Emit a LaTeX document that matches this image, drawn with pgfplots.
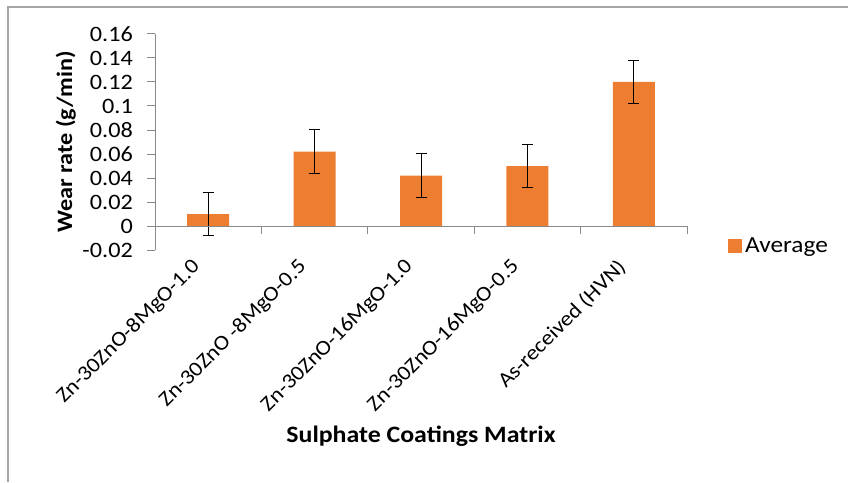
\documentclass[border=0pt]{standalone}
\usepackage{fontspec}
\setmainfont{Carlito}[FakeStretch=1.1]
\usepackage{pgfplots}
\pgfplotsset{compat=1.18}
\usepackage{pgfplotstable}

\definecolor{barorange}{HTML}{ED7D31}
\definecolor{axisgray}{HTML}{898989}
\definecolor{framegray}{HTML}{A6A6A6}

\pgfplotstableread{
x   y      err
0   0.010  0.018
1   0.062  0.018
2   0.042  0.018
3   0.050  0.018
4   0.120  0.018
}\wear

\begin{document}
\begin{tikzpicture}
\path[use as bounding box] (0pt,0pt) rectangle (848pt,482pt);
% chart frame (only left and top edges show)
\draw[framegray, line width=1.5pt] (8pt,0pt) -- (8pt,475pt) -- (848pt,475pt);

\begin{axis}[
    at={(155pt,232pt)}, anchor=south west,
    scale only axis,
    width=532pt, height=216pt,
    xmin=-0.5, xmax=4.5,
    ymin=-0.02, ymax=0.16,
    axis lines=left,
    axis line style={-, axisgray, line width=1pt},
    x axis line style={draw=none},
    xtick={0,1,2,3,4},
    xticklabels={Zn-30ZnO-8MgO-1.0, Zn-30ZnO -8MgO-0.5, Zn-30ZnO-16MgO-1.0, Zn-30ZnO-16MgO-0.5, As-received (HVN)},
    xtick style={draw=none},
    xticklabel style={rotate=45, anchor=east, font=\fontsize{21}{23}\selectfont, inner sep=0pt, xshift=-12pt, yshift=4pt},
    ytick={-0.02,0,0.02,0.04,0.06,0.08,0.1,0.12,0.14,0.16},
    yticklabels={-0.02,0,0.02,0.04,0.06,0.08,0.1,0.12,0.14,0.16},
    ytick style={axisgray, line width=1pt},
    tick align=outside,
    major tick length=8pt,
    yticklabel style={font=\fontsize{22}{24}\selectfont, inner sep=0pt, xshift=-14pt},
    ylabel={\textbf{Wear rate (g/min)}},
    ylabel style={font=\fontsize{22}{24}\selectfont, at={(axis description cs:-0.142,0.5)}, anchor=south},
    xlabel={\textbf{Sulphate Coatings Matrix}},
    xlabel style={font=\fontsize{23.5}{26}\selectfont, at={(axis description cs:0.5,-0.86)}, anchor=center},
    legend style={draw=none, at={(axis description cs:1.077,0.019)}, anchor=west,
        font=\fontsize{23}{25}\selectfont, inner sep=0pt, nodes={inner sep=3pt}},
    legend image code/.code={\fill[barorange] (0pt,-7pt) rectangle (14pt,7pt);},
    legend cell align=left,
    clip=false,
]
\addplot[
    ybar, bar width=42pt, fill=barorange, draw=none,
    error bars/.cd, y dir=both, y explicit,
    error bar style={black, line width=1pt},
    error mark options={rotate=90, mark size=5.5pt, black, line width=1pt},
] table[x=x, y=y, y error=err] {\wear};
\legend{Average}
% category axis at zero with boundary ticks
\draw[axisgray, line width=1pt] (axis cs:-0.5,0) -- (axis cs:4.5,0);
\pgfplotsinvokeforeach{-0.5,0.5,1.5,2.5,3.5,4.5}{
  \draw[axisgray, line width=1pt] (axis cs:#1,0) -- ++(0pt,-8pt);
}
\end{axis}
\end{tikzpicture}
\end{document}
